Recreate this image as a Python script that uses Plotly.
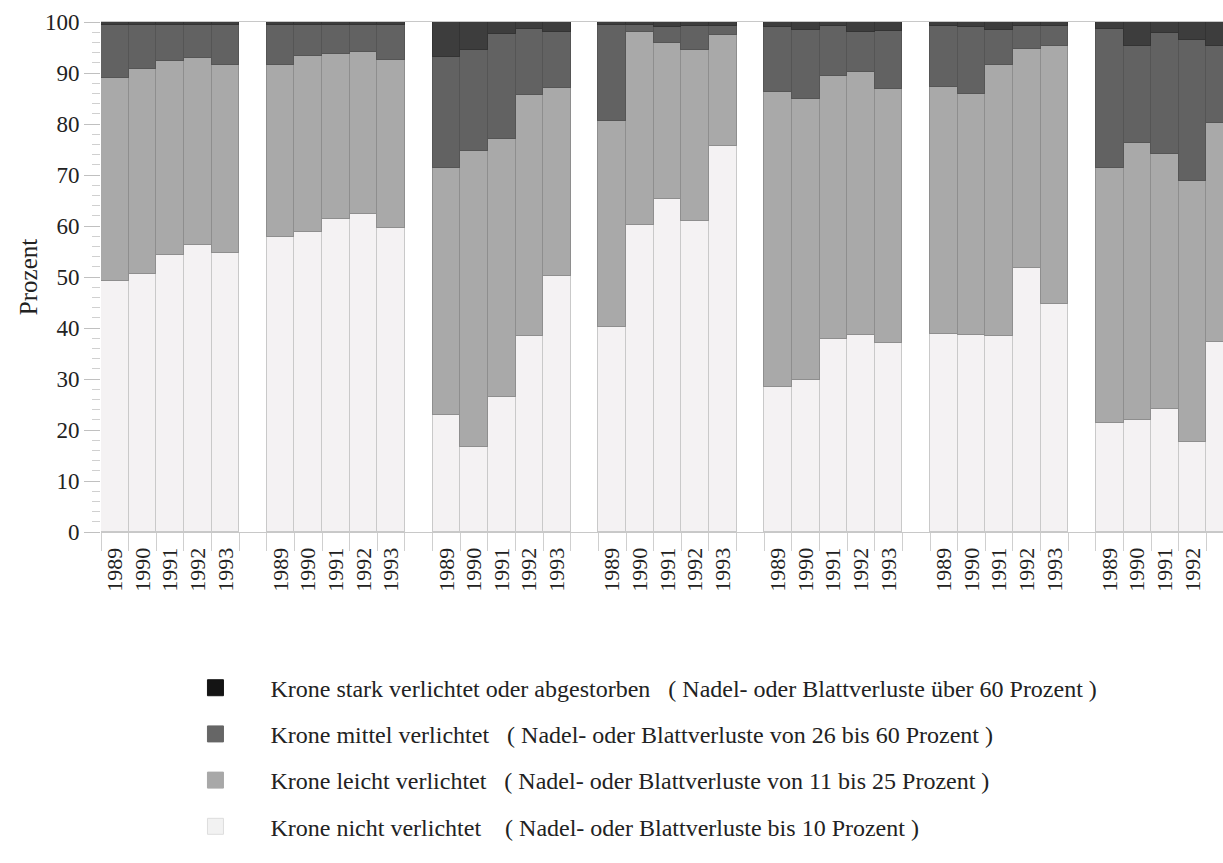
import plotly.graph_objects as go

# ---------------- data ----------------
years = ["1989", "1990", "1991", "1992", "1993"]
n_groups = 7

# share of trees per damage class (percent), one row per group, one value per year
nicht = [
    [49.3, 50.6, 54.4, 56.2, 54.7],
    [57.8, 58.8, 61.4, 62.4, 59.6],
    [22.9, 16.7, 26.5, 38.4, 50.2],
    [40.1, 60.1, 65.2, 61.0, 75.7],
    [28.5, 29.8, 37.8, 38.6, 37.1],
    [38.8, 38.6, 38.4, 51.7, 44.8],
    [21.4, 22.0, 24.2, 17.6, 37.2],
]
leicht = [
    [39.7, 40.2, 37.9, 36.7, 36.9],
    [33.8, 34.5, 32.4, 31.8, 32.9],
    [48.5, 58.0, 50.5, 47.3, 36.8],
    [40.5, 37.9, 30.6, 33.6, 21.7],
    [57.8, 55.2, 51.6, 51.5, 49.7],
    [48.5, 47.3, 53.2, 43.0, 50.4],
    [49.9, 54.2, 49.9, 51.2, 42.9],
]
mittel = [
    [10.4, 8.7, 7.2, 6.5, 7.9],
    [7.9, 6.2, 5.7, 5.3, 7.0],
    [21.8, 19.8, 20.7, 13.0, 11.1],
    [18.8, 1.5, 3.3, 4.6, 1.8],
    [12.8, 13.4, 9.8, 8.0, 11.5],
    [12.0, 13.2, 6.8, 4.5, 4.0],
    [27.3, 19.0, 23.8, 27.7, 15.1],
]
stark = [
    [0.6, 0.5, 0.5, 0.6, 0.5],
    [0.5, 0.5, 0.5, 0.5, 0.5],
    [6.8, 5.5, 2.3, 1.3, 1.9],
    [0.6, 0.5, 0.9, 0.8, 0.8],
    [0.9, 1.6, 0.8, 1.9, 1.7],
    [0.7, 0.9, 1.6, 0.8, 0.8],
    [1.4, 4.8, 2.1, 3.5, 4.8],
]

legend_labels = [
    "Krone stark verlichtet oder abgestorben \u00a0\u00a0( Nadel- oder Blattverluste über 60 Prozent )",
    "Krone mittel verlichtet \u00a0\u00a0( Nadel- oder Blattverluste von 26 bis 60 Prozent )",
    "Krone leicht verlichtet \u00a0\u00a0( Nadel- oder Blattverluste von 11 bis 25 Prozent )",
    "Krone nicht verlichtet \u00a0\u00a0\u00a0( Nadel- oder Blattverluste bis 10 Prozent )",
]

# ---------------- build ----------------
FONT = "Liberation Serif, Times New Roman, serif"
slot = 6  # 5 years + 1 empty slot per group
xpos = [g * slot + i for g in range(n_groups) for i in range(len(years))]
xlabels = years * n_groups


def flat(rows):
    return [v for row in rows for v in row]


layers = [
    (nicht, "#f4f2f3", "#c9c9c9"),
    (leicht, "#a9a9a9", "#8e8e8e"),
    (mittel, "#626262", "#555555"),
    (stark, "#3d3d3d", "#333333"),
]

fig = go.Figure()
for vals, col, lcol in layers:
    fig.add_trace(go.Bar(
        x=xpos, y=flat(vals), width=1.0,
        marker=dict(color=col, line=dict(color=lcol, width=1)),
        showlegend=False, hoverinfo="skip",
    ))

legend_colors = ["#141414", "#666666", "#a8a8a8", "#f2f2f2"]
legend_lines = ["#141414", "#666666", "#a8a8a8", "#dddddd"]
for lab, col, lc in zip(legend_labels, legend_colors, legend_lines):
    fig.add_trace(go.Scatter(
        x=[None], y=[None], mode="markers", name=lab, legendgroup=lab,
        marker=dict(symbol="square", size=16, color=col, line=dict(color=lc, width=1)),
    ))

fig.update_layout(
    width=1223, height=863,
    margin=dict(l=101, r=0, t=22, b=331),
    paper_bgcolor="white", plot_bgcolor="white",
    barmode="stack", bargap=0,
    font=dict(family=FONT, size=20, color="#222222"),
    showlegend=True,
    legend=dict(
        x=0.053, y=-0.262, xanchor="left", yanchor="top",
        orientation="v", itemwidth=100, tracegroupgap=12,
        traceorder="grouped",
        font=dict(family=FONT, size=24, color="#222222"),
        bgcolor="rgba(0,0,0,0)",
    ),
    xaxis=dict(
        range=[-0.5, 40.1],
        tickmode="array", tickvals=xpos, ticktext=xlabels,
        tickangle=-90,
        ticks="outside", ticklen=6, tickcolor="rgba(0,0,0,0)",
        minor=dict(tick0=0.5, dtick=1, ticks="outside", ticklen=18,
                   tickcolor="#cfcfcf", tickwidth=1),
        showline=True, mirror=True, linecolor="#c8c8c8", linewidth=1,
        showgrid=False, zeroline=False,
        tickfont=dict(family=FONT, size=22, color="#222222"),
    ),
    yaxis=dict(
        range=[0, 100],
        tickmode="array", tickvals=list(range(0, 101, 10)),
        ticks="outside", ticklen=16, tickcolor="#c0c0c0", tickwidth=1,
        minor=dict(dtick=2, ticks="outside", ticklen=8, tickcolor="#d0d0d0"),
        showgrid=False, zeroline=False, showline=False,
        title=dict(text="Prozent", font=dict(family=FONT, size=25, color="#222222"), standoff=0),
        tickfont=dict(family=FONT, size=23, color="#222222"),
    ),
)

fig.write_html("out.html", config={"displayModeBar": False},
               post_script="document.body.style.margin='0';")
